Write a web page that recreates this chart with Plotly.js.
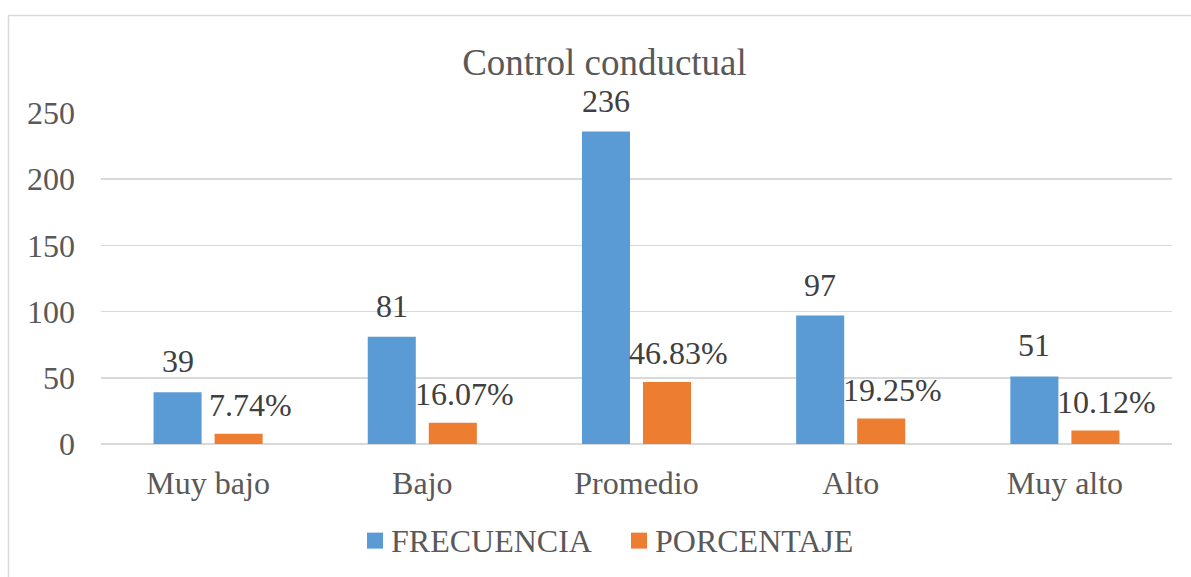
<!DOCTYPE html>
<html>
<head>
<meta charset="utf-8">
<script src="https://cdn.plot.ly/plotly-3.0.1.min.js"></script>
<style>
html,body{margin:0;padding:0;background:#fff;}
#chart{width:1191px;height:577px;}
</style>
</head>
<body>
<div id="chart"></div>
<script>
const categories = ["Muy bajo", "Bajo", "Promedio", "Alto", "Muy alto"];
const frecuencia = [39, 81, 236, 97, 51];
const porcentaje = [7.74, 16.07, 46.83, 19.25, 10.12];
const seriesNames = ["FRECUENCIA", "PORCENTAJE"];
const chartTitle = "Control conductual";
const yTicks = [0, 50, 100, 150, 200, 250];

const FONT = "Liberation Serif";
const TXT = "#595959";
const BLUE = "#5B9BD5";
const ORANGE = "#ED7D31";
const colors = [BLUE, ORANGE];

const traces = [
  {type: "bar", name: seriesNames[0], x: categories, y: frecuencia,
   marker: {color: BLUE}, hoverinfo: "skip", showlegend: false},
  {type: "bar", name: seriesNames[1], x: categories, y: porcentaje,
   marker: {color: ORANGE}, hoverinfo: "skip", showlegend: false}
];

// plot area pixel mapping helpers (for legend placement only)
const L = 101, W = 1071, Y0 = 444.3, H = 331.3;
const px = v => (v - L) / W;
const py = v => (Y0 - v) / H;

const annotations = [];
categories.forEach((c, i) => {
  annotations.push({x: c, y: frecuencia[i], xref: "x", yref: "y",
    text: String(frecuencia[i]), showarrow: false, yanchor: "bottom",
    xshift: -30.5, yshift: 11, font: {family: FONT, size: 32, color: "#404040"}});
  annotations.push({x: c, y: porcentaje[i], xref: "x", yref: "y",
    text: porcentaje[i].toFixed(2) + "%", showarrow: false, yanchor: "bottom",
    xshift: 42, yshift: 9, font: {family: FONT, size: 32, color: "#404040"}});
});

const shapes = [{type: "rect", xref: "paper", yref: "paper",
  x0: px(8.5), x1: 1.05, y0: -0.5, y1: py(15.5),
  line: {color: "#d9d9d9", width: 1.5}, fillcolor: "rgba(0,0,0,0)", layer: "below"}];

// custom legend
const legX = [367, 631];
seriesNames.forEach((n, k) => {
  shapes.push({type: "rect", xref: "paper", yref: "paper",
    x0: px(legX[k]), x1: px(legX[k] + 16), y0: py(549), y1: py(533),
    line: {width: 0}, fillcolor: colors[k]});
  annotations.push({xref: "paper", yref: "paper", x: px(legX[k] + 22), y: py(541),
    xanchor: "left", yanchor: "middle", showarrow: false, text: n,
    font: {family: FONT, size: 32, color: TXT}});
});

const layout = {
  width: 1191, height: 577,
  margin: {l: 101, r: 19, t: 113, b: 133},
  paper_bgcolor: "#ffffff", plot_bgcolor: "#ffffff",
  font: {family: FONT, size: 32, color: TXT},
  title: {text: chartTitle, font: {family: FONT, size: 37, color: TXT},
          x: 604.5 / 1191, xanchor: "center", y: 0.893, yanchor: "middle"},
  barmode: "group", bargap: 0.43, bargroupgap: 0.213,
  showlegend: false,
  xaxis: {type: "category", showgrid: false, showline: false, ticks: "",
          tickfont: {family: FONT, size: 32, color: TXT}, ticklabelstandoff: 17,
          fixedrange: true},
  yaxis: {range: [0, 250], tickvals: yTicks, showgrid: true, gridcolor: "#d9d9d9",
          gridwidth: 1.5, zeroline: true, zerolinecolor: "#d9d9d9", zerolinewidth: 2,
          showline: false, ticks: "", ticklabelstandoff: 25,
          tickfont: {family: FONT, size: 32, color: TXT}, fixedrange: true},
  annotations: annotations,
  shapes: shapes
};

Plotly.newPlot("chart", traces, layout, {staticPlot: true, displayModeBar: false});
</script>
</body>
</html>
